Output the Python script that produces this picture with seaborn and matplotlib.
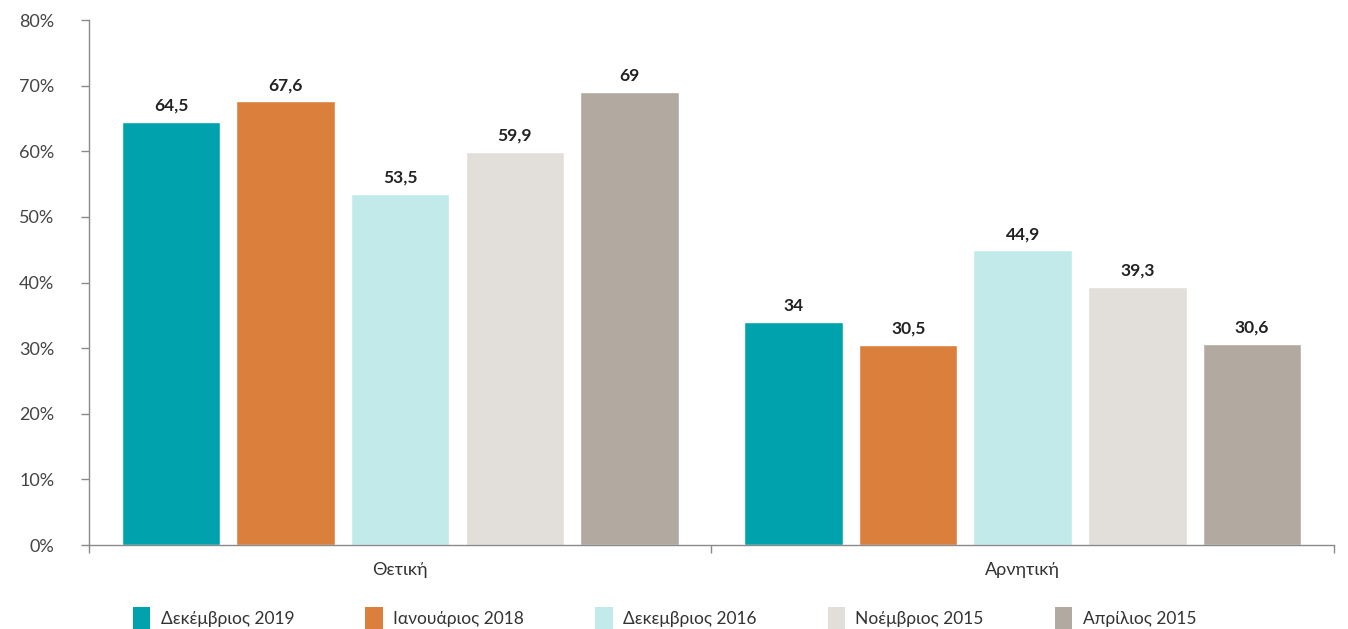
import matplotlib
matplotlib.use("Agg")
import matplotlib.pyplot as plt
import seaborn as sns
import pandas as pd
from matplotlib.ticker import FixedLocator, PercentFormatter
from matplotlib.patches import Patch

categories = ["Θετική", "Αρνητική"]
series = ["Δεκέμβριος 2019", "Ιανουάριος 2018", "Δεκεμβριος 2016", "Νοέμβριος 2015", "Απρίλιος 2015"]
dec2019 = [64.5, 34]
jan2018 = [67.6, 30.5]
dec2016 = [53.5, 44.9]
nov2015 = [59.9, 39.3]
apr2015 = [69, 30.6]
colors = ["#00A3AD", "#DB7F3D", "#C3EAEA", "#E2DEDA", "#B2AAA0"]
yticks = [0, 10, 20, 30, 40, 50, 60, 70, 80]

values = [dec2019, jan2018, dec2016, nov2015, apr2015]
rows = []
for s, vals in zip(series, values):
    for c, v in zip(categories, vals):
        rows.append({"category": c, "series": s, "value": v})
df = pd.DataFrame(rows)

sns.set_style("white")
plt.rcParams["font.family"] = ["Lato", "DejaVu Sans"]

fig = plt.figure(figsize=(13.48, 6.29), dpi=100)
ax = fig.add_axes([0.066, 0.1335, 0.9236, 0.8347])

sns.barplot(data=df, x="category", y="value", hue="series", order=categories,
            hue_order=series, palette=colors, width=0.92, gap=0.14,
            saturation=1, legend=False, ax=ax, errorbar=None)

def fmt(v):
    s = ("%g" % v).replace(".", ",")
    return s

for cont in ax.containers:
    labels = [fmt(b.get_height()) for b in cont]
    ax.bar_label(cont, labels=labels, padding=6, fontsize=12.5, fontweight="bold",
                 color="#222222")

ax.set_xlim(-0.5, 1.5)
ax.set_ylim(0, 80)
ax.yaxis.set_major_locator(FixedLocator(yticks))
ax.yaxis.set_major_formatter(PercentFormatter(decimals=0))
ax.set_xlabel("")
ax.set_ylabel("")

for side in ["top", "right"]:
    ax.spines[side].set_visible(False)
for side in ["left", "bottom"]:
    ax.spines[side].set_color("#8a8a8a")
    ax.spines[side].set_linewidth(1.0)

ax.tick_params(axis="y", which="major", left=True, length=6, width=1, color="#8a8a8a",
               labelsize=13, labelcolor="#444444", pad=19)
ax.tick_params(axis="x", which="major", bottom=False, labelsize=13, labelcolor="#333333", pad=9)
ax.set_xticks([-0.5, 0.5, 1.5], minor=True)
ax.tick_params(axis="x", which="minor", bottom=True, length=6, width=1, color="#8a8a8a")

handles = [Patch(facecolor=c, edgecolor="none", label=s) for s, c in zip(series, colors)]
fig.legend(handles=handles, loc="center", bbox_to_anchor=(0.493, 0.017), ncol=5,
           frameon=False, fontsize=12.5, handlelength=1.0, handleheight=1.6,
           handletextpad=0.6, columnspacing=4.1, labelcolor="#333333")

fig.savefig("out.png", dpi=100)
